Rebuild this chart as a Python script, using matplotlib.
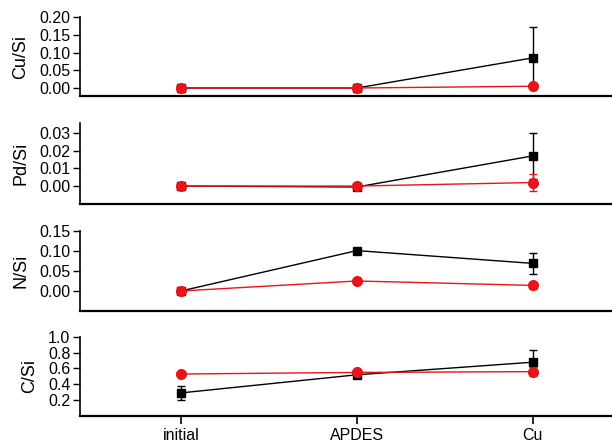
import matplotlib
matplotlib.use("Agg")
import matplotlib.pyplot as plt

plt.rcParams['font.family'] = ['Liberation Sans', 'DejaVu Sans']

categories = ["initial", "APDES", "Cu"]
xpos = [0, 1, 2]

# Cu/Si
cu_black = [0.0, 0.0, 0.085]
cu_black_err = [0.0, 0.0, 0.088]
cu_red = [0.0, 0.0, 0.005]
cu_red_err = [0.0, 0.0, 0.0]

# Pd/Si
pd_black = [0.0, -0.0005, 0.017]
pd_black_err = [0.0, 0.0008, 0.013]
pd_red = [0.0, 0.0, 0.002]
pd_red_err = [0.0, 0.0, 0.005]

# N/Si
n_black = [0.0, 0.101, 0.069]
n_black_err = [0.0, 0.003, 0.027]
n_red = [0.0, 0.025, 0.014]
n_red_err = [0.0, 0.002, 0.008]

# C/Si
c_black = [0.29, 0.52, 0.68]
c_black_err = [0.09, 0.03, 0.15]
c_red = [0.53, 0.55, 0.56]
c_red_err = [0.01, 0.02, 0.06]

panels = [
    ("Cu/Si", cu_black, cu_black_err, cu_red, cu_red_err,
     (-0.0225, 0.20), [0.00, 0.05, 0.10, 0.15, 0.20], "%.2f"),
    ("Pd/Si", pd_black, pd_black_err, pd_red, pd_red_err,
     (-0.0101, 0.0355), [0.00, 0.01, 0.02, 0.03], "%.2f"),
    ("N/Si", n_black, n_black_err, n_red, n_red_err,
     (-0.05, 0.15), [0.00, 0.05, 0.10, 0.15], "%.2f"),
    ("C/Si", c_black, c_black_err, c_red, c_red_err,
     (0.0, 1.0), [0.2, 0.4, 0.6, 0.8, 1.0], "%.1f"),
]

# axes boxes (fig fraction): bottom, height
boxes = [(0.7857, 0.1763), (0.5446, 0.1808), (0.3058, 0.1786), (0.072, 0.1758)]

red = "#e8141c"
fig = plt.figure(figsize=(6.12, 4.48), dpi=100)

for i, (lab, bk, bke, rd, rde, ylim, ticks, fmt) in enumerate(panels):
    ax = fig.add_axes([0.1307, boxes[i][0], 0.8693, boxes[i][1]])
    ax.errorbar(xpos, bk, yerr=bke, color="black", marker="s", ms=6,
                lw=1, elinewidth=1, capsize=3, capthick=1)
    ax.errorbar(xpos, rd, yerr=rde, color=red, marker="o", ms=7,
                lw=1, elinewidth=1, capsize=3, capthick=1)
    ax.set_xlim(-0.574, 2.45)
    ax.set_ylim(*ylim)
    ax.set_yticks(ticks)
    ax.set_yticklabels([fmt % t for t in ticks])
    ax.set_ylabel(lab, fontsize=13, labelpad=7)
    for s in ["top", "right"]:
        ax.spines[s].set_visible(False)
    ax.spines["left"].set_linewidth(1.2)
    ax.spines["bottom"].set_linewidth(1.6)
    ax.tick_params(axis="y", direction="out", length=5, width=1, labelsize=11.5, pad=2)
    if i < 3:
        ax.set_xticks([])
    else:
        ax.set_xticks(xpos)
        ax.set_xticklabels(categories)
        ax.tick_params(axis="x", direction="out", length=6, width=1.2, labelsize=11.5, pad=3)

fig.savefig("out.png", dpi=100)
